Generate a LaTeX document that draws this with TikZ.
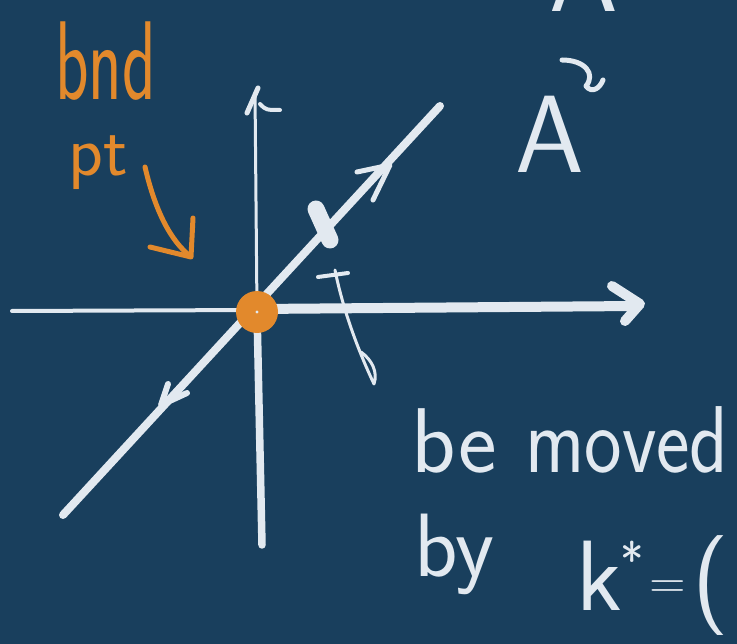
\documentclass[tikz,border=0pt]{standalone}
\usepackage{fontspec}
\definecolor{bgc}{RGB}{25,63,93}
\definecolor{chalkc}{RGB}{226,233,240}
\definecolor{orangec}{RGB}{226,137,44}
\begin{document}
\begin{tikzpicture}[x=1pt,y=-1pt,
  chalk/.style={draw=chalkc, line cap=round, line join=round},
  orng/.style={draw=orangec, line cap=round, line join=round},
  hand/.style={text=chalkc, inner sep=0pt, font=\sffamily},
  ohand/.style={text=orangec, inner sep=0pt, font=\sffamily}]
\fill[bgc] (0,0) rectangle (737,644);
\useasboundingbox (0,0) rectangle (737,644);

% horizontal axis
\draw[chalk, line width=4] (12,311) -- (257,310);
\draw[chalk, line width=10] (257,309) -- (636,306);
\draw[chalk, line width=10] (612,286) -- (640,304) -- (625,321);

% vertical axis
\draw[chalk, line width=3] (255,92) -- (257,311);
\draw[chalk, line width=7.5] (257,311) -- (262,545);
\draw[chalk, line width=5] (247,113) -- (258,88);
\draw[chalk, line width=4] (260,104) .. controls (266,110) .. (280,110);

% diagonal line with arrows
\draw[chalk, line width=8] (63,515) -- (440,106);
\draw[chalk, line width=5] (357,172) -- (390,165) -- (373,200);
\draw[chalk, line width=6] (168,384) -- (161,405) -- (187,393);

% tick on diagonal
\draw[chalk, line width=17] (316,209) -- (330,240);

% tau mark
\draw[chalk, line width=4] (318,277) -- (348,273);
\draw[chalk, line width=3] (335,270) .. controls (345,320) and (365,365) .. (374,384)
  .. controls (378,372) and (372,360) .. (361,352);

% orange boundary point
\fill[orangec] (257,312) circle (21);
\fill[chalkc] (257,312) circle (1.6);

% orange arrow
\draw[orng, line width=5] (145,167) .. controls (155,210) and (170,240) .. (190,256);
\draw[orng, line width=5] (193,218) -- (191,257) -- (150,247);

% orange label
\node[ohand, anchor=base west, xscale=0.62, font=\sffamily\fontsize{112}{112}\selectfont] (bnd) at (55,100) {bnd};
\node[ohand, anchor=base west, font=\sffamily\fontsize{72}{72}\selectfont] (pt) at (68,176) {pt};

% A with tilde
\node[hand, anchor=base, font=\sffamily\fontsize{110}{110}\selectfont] (Atop) at (584,12) {A};
\draw[chalk, line width=5] (562,60) .. controls (585,60) and (596,74) .. (586,86)
  .. controls (592,94) and (600,88) .. (603,80);
\node[hand, anchor=base, font=\sffamily\fontsize{110}{110}\selectfont] (A) at (550,173) {A};

% bottom text
\node[hand, anchor=base west, font=\sffamily\fontsize{92}{92}\selectfont] (be) at (411,473) {be};
\node[hand, anchor=base west, xscale=0.84, font=\sffamily\fontsize{95}{95}\selectfont] (moved) at (525,473) {moved};
\node[hand, anchor=base west, font=\sffamily\fontsize{90}{90}\selectfont] (by) at (414,576) {by};
\node[hand, anchor=base west, font=\sffamily\fontsize{100}{100}\selectfont] (kstar) at (576,610)
  {k\kern-2pt\raisebox{0.32em}{\fontsize{50}{50}\selectfont*}\kern6pt\raisebox{0.12em}{\fontsize{50}{50}\selectfont=}\kern6pt(};
\end{tikzpicture}
\end{document}
